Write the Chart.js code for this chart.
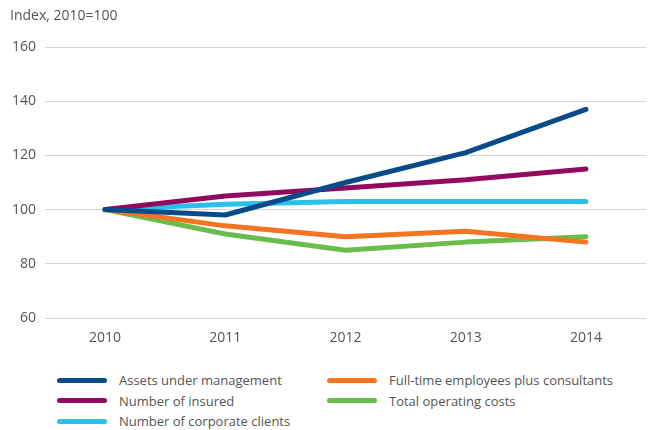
<!DOCTYPE html>
<html>
<head>
<meta charset="utf-8">
<script src="https://cdn.jsdelivr.net/npm/chart.js@4.4.1/dist/chart.umd.min.js"></script>
<style>
  html, body { margin: 0; padding: 0; background: #fff; }
  #wrap { position: relative; width: 649px; height: 430px; font-family: "Open Sans", sans-serif; color: #555; }
  #unit { position: absolute; left: 10px; top: 5px; font-size: 14px; color: #555; }
  #chartBox { position: absolute; left: 0; top: 0; width: 649px; height: 350px; }
  #legend { position: absolute; left: 0; top: 371px; width: 649px; }
  .item { position: absolute; display: flex; align-items: center; font-size: 13px; color: #555; white-space: nowrap; }
  .swatch { width: 50px; height: 5px; border-radius: 3px; margin-right: 12px; }
</style>
</head>
<body>
<div id="wrap">
  <canvas id="chartBox" width="649" height="350"></canvas>
  <div id="unit">Index, 2010=100</div>
  <div id="legend"></div>
</div>
<script>
const years = ["2010", "2011", "2012", "2013", "2014"];
const yTicks = [60, 80, 100, 120, 140, 160];

const seriesNames = [
  "Assets under management",
  "Number of insured",
  "Number of corporate clients",
  "Full-time employees plus consultants",
  "Total operating costs"
];
const assetsUnderManagement = [100, 98, 110, 121, 137];
const numberOfInsured = [100, 105, 108, 111, 115];
const corporateClients = [100, 102, 103, 103, 103];
const employeesConsultants = [100, 94, 90, 92, 88];
const operatingCosts = [100, 91, 85, 88, 90];

const seriesValues = [assetsUnderManagement, numberOfInsured, corporateClients, employeesConsultants, operatingCosts];
const seriesColors = ["#084b8a", "#910a5e", "#2bbfee", "#f47421", "#6abd4b"];

const datasets = seriesNames.map((name, i) => ({
  label: name,
  data: seriesValues[i],
  borderColor: seriesColors[i],
  backgroundColor: seriesColors[i],
  borderWidth: 5,
  borderCapStyle: "round",
  borderJoinStyle: "round",
  pointRadius: 0,
  pointHoverRadius: 0,
  tension: 0,
  fill: false
}));

const chart = new Chart(document.getElementById("chartBox"), {
  type: "line",
  data: { labels: years, datasets },
  options: {
    responsive: false,
    animation: false,
    events: [],
    layout: { padding: { top: 47, right: 3, left: 0, bottom: 0 } },
    plugins: { legend: { display: false }, tooltip: { enabled: false }, title: { display: false } },
    scales: {
      x: {
        offset: true,
        grid: { display: false },
        border: { display: false },
        ticks: { color: "#555", font: { family: "Open Sans", size: 14 }, padding: 4 },
        afterFit: (s) => { s.height = 32; }
      },
      y: {
        min: 60,
        max: 160,
        afterBuildTicks: (s) => { s.ticks = yTicks.map(v => ({ value: v })); },
        grid: { color: "#d4d4d4", lineWidth: 1, drawTicks: false },
        border: { display: false },
        ticks: { color: "#555", font: { family: "Open Sans", size: 14 }, padding: 9 },
        afterFit: (s) => { s.width = 45; }
      }
    }
  }
});

// Legend laid out in two columns, built from the chart's datasets
const legendPos = [
  { left: 57, top: 0 },
  { left: 57, top: 20.5 },
  { left: 57, top: 41 },
  { left: 327, top: 0 },
  { left: 327, top: 20.5 }
];
const legend = document.getElementById("legend");
chart.data.datasets.forEach((ds, i) => {
  const item = document.createElement("div");
  item.className = "item";
  item.style.left = legendPos[i].left + "px";
  item.style.top = legendPos[i].top + "px";
  const sw = document.createElement("span");
  sw.className = "swatch";
  sw.style.background = ds.borderColor;
  const tx = document.createElement("span");
  tx.textContent = ds.label;
  item.appendChild(sw);
  item.appendChild(tx);
  legend.appendChild(item);
});
</script>
</body>
</html>
